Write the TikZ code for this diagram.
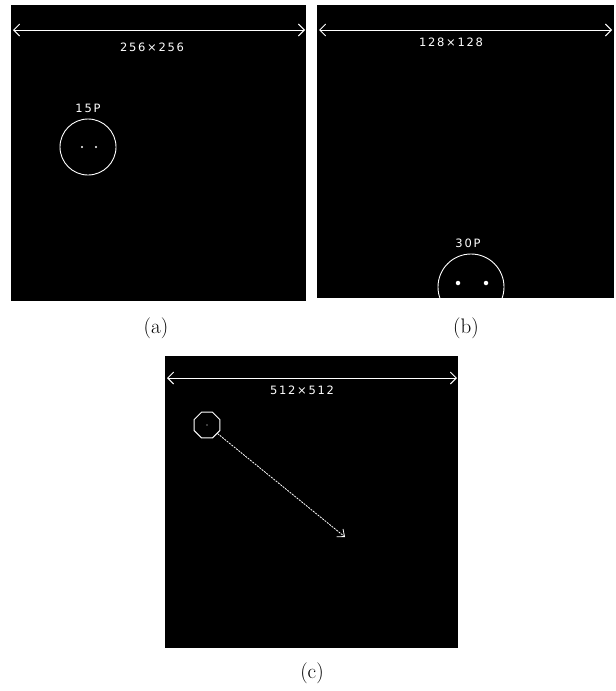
\documentclass[tikz,border=0pt]{standalone}
\usepackage{fontspec}
\usetikzlibrary{arrows.meta}
\usetikzlibrary{shapes.geometric}
\newfontfamily\scrfont[LetterSpace=15]{DejaVu Sans}
\colorlet{screenline}{white}

\begin{document}
\begin{tikzpicture}[x=1pt,y=-1pt,
    dimline/.style={screenline, line width=0.9pt, {Straight Barb[length=6pt,width=12pt]}-{Straight Barb[length=6pt,width=12pt]}},
    scrtext/.style={text=white, font=\scrfont\fontsize{11.5}{13}\selectfont, inner sep=0pt},
    caption/.style={font=\fontsize{21}{24}\selectfont, inner sep=0pt},
    face/.style={draw=screenline, circle, line width=0.9pt, inner sep=0pt},
    eye/.style={fill=white, circle, inner sep=0pt}]
        \useasboundingbox (0,0) rectangle (616,691);
        % screen coordinates
        \coordinate (a-l) at (13,30);
        \coordinate (a-r) at (305,30);
        \coordinate (b-l) at (319,30);
        \coordinate (b-r) at (612,30);
        \coordinate (c-l) at (167,378);
        \coordinate (c-r) at (457,378);
        \coordinate (c-tip) at (345,537);
        % screens
        \fill[black] (11,5) rectangle (306,301);
        \fill[black] (317,5) rectangle (614,298);
        \fill[black] (165,356) rectangle (458,648);
        % panel (a)
        \draw[dimline] (a-l) -- (a-r);
        \node[scrtext] (a-size) at (152,47) {256×256};
        \node[face, minimum size=56pt] (a-face) at (88,147) {};
        \node[scrtext] (a-dist) at (88,108) {15P};
        \foreach \x in {82,96}
        {
            \node[eye, minimum size=2.4pt] (a-eye\x) at (\x,147) {};
        }
        % panel (b)
        \draw[dimline] (b-l) -- (b-r);
        \node[scrtext] (b-size) at (451,42) {128×128};
        \begin{scope}
            \clip (317,5) rectangle (614,298);
            \node[face, minimum size=66pt] (b-face) at (471,287) {};
        \end{scope}
        \node[scrtext] (b-dist) at (468,243) {30P};
        \foreach \x in {458,486}
        {
            \node[eye, minimum size=4.5pt] (b-eye\x) at (\x,283) {};
        }
        % panel (c)
        \draw[dimline] (c-l) -- (c-r);
        \node[scrtext] (c-size) at (302,390) {512×512};
        \node[draw=screenline, regular polygon, regular polygon sides=8, minimum size=28pt, line width=1pt, inner sep=0pt] (c-oct) at (207,425) {};
        \node[eye, minimum size=1.2pt] (c-dot) at (207,425) {};
        \draw[screenline, line width=0.8pt, dash pattern=on 2pt off 1pt, -{Straight Barb[length=6pt,width=10pt]}] (c-oct) -- (c-tip);
        % captions
        \node[caption] (cap-a) at (156,328) {(a)};
        \node[caption] (cap-b) at (466,328) {(b)};
        \node[caption] (cap-c) at (312,673) {(c)};
    \end{tikzpicture}
\end{document}
